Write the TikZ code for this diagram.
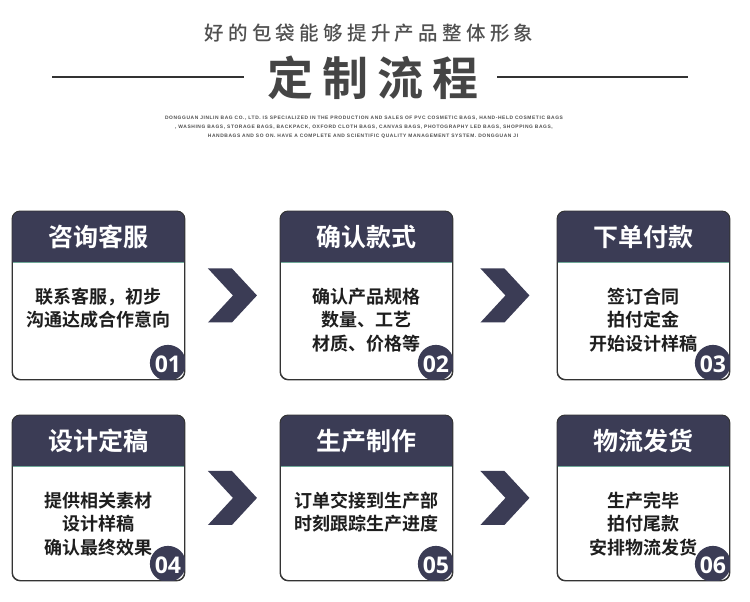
\documentclass[tikz,border=0pt]{standalone}
\usepackage{fontspec}
\usetikzlibrary{calc}
\setmainfont{Noto Sans CJK SC}[BoldFont={Noto Sans CJK SC Bold}]
\newfontfamily\cjkb{Noto Sans CJK SC Bold}
\newfontfamily\titlefont[LetterSpace=20]{Noto Sans CJK SC Bold}
\newfontfamily\subfont[LetterSpace=22]{Noto Sans CJK SC Medium}
\newfontfamily\engfont[LetterSpace=12]{Liberation Sans Bold}
\newfontfamily\numfont{Open Sans Bold}
\definecolor{navy}{HTML}{3B3C55}
\definecolor{tealline}{HTML}{6FA898}
\definecolor{titlegray}{HTML}{454545}
\definecolor{subgray}{HTML}{505050}
\definecolor{bodyblack}{HTML}{1E1E1E}
\definecolor{framegray}{HTML}{333333}
\tikzset{
  cardframe/.style={draw=framegray, line width=0.9pt, fill=white, rounded corners=8pt,
    rectangle, minimum width=172pt, inner sep=0pt, anchor=north west},
  headtext/.style={text=white, font=\cjkb\fontsize{25}{28}\selectfont, inner sep=0pt},
  bodytext/.style={text=bodyblack, font=\cjkb\fontsize{18}{23.5}\selectfont, align=center, inner sep=0pt, anchor=north},
  numtext/.style={text=white, font=\numfont\fontsize{23}{26}\selectfont, inner sep=0pt},
  chevron/.style={fill=navy},
  ruleline/.style={draw=framegray, line width=1.4pt},
  engtext/.style={text=subgray, font=\engfont\fontsize{4.9}{6}\selectfont, inner sep=0pt}
}
% #1 name, #2 left x, #3 top y, #4 height, #5 title, #6 body, #7 number
\newcommand\card[7]{%
  \node[cardframe, minimum height=#4pt] (#1) at (#2,#3) {};
  \fill[navy] ($(#1.north west)+(0,51)$) [rounded corners=8pt] -- (#1.north west)
      -- (#1.north east) [sharp corners] -- ($(#1.north east)+(0,51)$) -- cycle;
  \draw[tealline, line width=1.3pt] ($(#1.north west)+(0.5,51.5)$) -- ($(#1.north east)+(-0.5,51.5)$);
  \draw[framegray, line width=0.9pt, rounded corners=8pt] (#1.north west) rectangle (#1.south east);
  \begin{scope}
    \clip[rounded corners=8pt] (#1.north west) rectangle (#1.south east);
    \fill[navy] ($(#1.south east)+(-17,-17)$) circle (18pt);
  \end{scope}
  \node[headtext] (#1h) at ($(#1.north)+(0,26)$) {#5};
  \node[bodytext] (#1b) at ($(#1.north)+(0,76.5)$) {#6};
  \node[numtext] (#1n) at ($(#1.south east)+(-17,-16)$) {#7};
}
\newcommand\chev[1]{%
  \fill[chevron, shift={(#1)}] (-24.5,-27) -- (-0.5,-27) -- (24.5,0) -- (-0.5,27) -- (-24.5,27) -- (0.5,0) -- cycle;
}
\begin{document}
\begin{tikzpicture}[x=1pt, y=-1pt]
\useasboundingbox[fill=white] (0,0) rectangle (750,602);
% heading
\node[text=subgray, font=\subfont\fontsize{19.5}{22}\selectfont, inner sep=0pt] (sub) at (369,33) {好的包袋能够提升产品整体形象};
\node[text=titlegray, font=\titlefont\fontsize{46}{50}\selectfont, inner sep=0pt] (title) at (373,78) {定制流程};
\coordinate (l1a) at (52,77); \coordinate (l1b) at (244,77);
\coordinate (l2a) at (497,77); \coordinate (l2b) at (688,77);
\draw[ruleline] (l1a) -- (l1b);
\draw[ruleline] (l2a) -- (l2b);
\node[engtext] (e1) at (364,118) {DONGGUAN JINLIN BAG CO., LTD. IS SPECIALIZED IN THE PRODUCTION AND SALES OF PVC COSMETIC BAGS, HAND-HELD COSMETIC BAGS};
\node[engtext] (e2) at (364,127) {, WASHING BAGS, STORAGE BAGS, BACKPACK, OXFORD CLOTH BAGS, CANVAS BAGS, PHOTOGRAPHY LED BAGS, SHOPPING BAGS,};
\node[engtext] (e3) at (363,136) {HANDBAGS AND SO ON. HAVE A COMPLETE AND SCIENTIFIC QUALITY MANAGEMENT SYSTEM. DONGGUAN JI};
% cards
\card{b1}{12}{211}{168}{咨询客服}{联系客服，初步\\沟通达成合作意向}{01}
\card{b2}{280}{211}{168}{确认款式}{确认产品规格\\数量、工艺\\材质、价格等}{02}
\card{b3}{557}{211}{168}{下单付款}{签订合同\\拍付定金\\开始设计样稿}{03}
\card{b4}{12}{415}{165}{设计定稿}{提供相关素材\\设计样稿\\确认最终效果}{04}
\card{b5}{280}{415}{165}{生产制作}{订单交接到生产部\\时刻跟踪生产进度}{05}
\card{b6}{557}{415}{165}{物流发货}{生产完毕\\拍付尾款\\安排物流发货}{06}
% chevrons
\chev{$(b1.east)!0.5!(b2.west)$}
\chev{$(b2.east)!0.5!(b3.west)$}
\chev{$(b4.east)!0.5!(b5.west)$}
\chev{$(b5.east)!0.5!(b6.west)$}
\end{tikzpicture}
\end{document}
